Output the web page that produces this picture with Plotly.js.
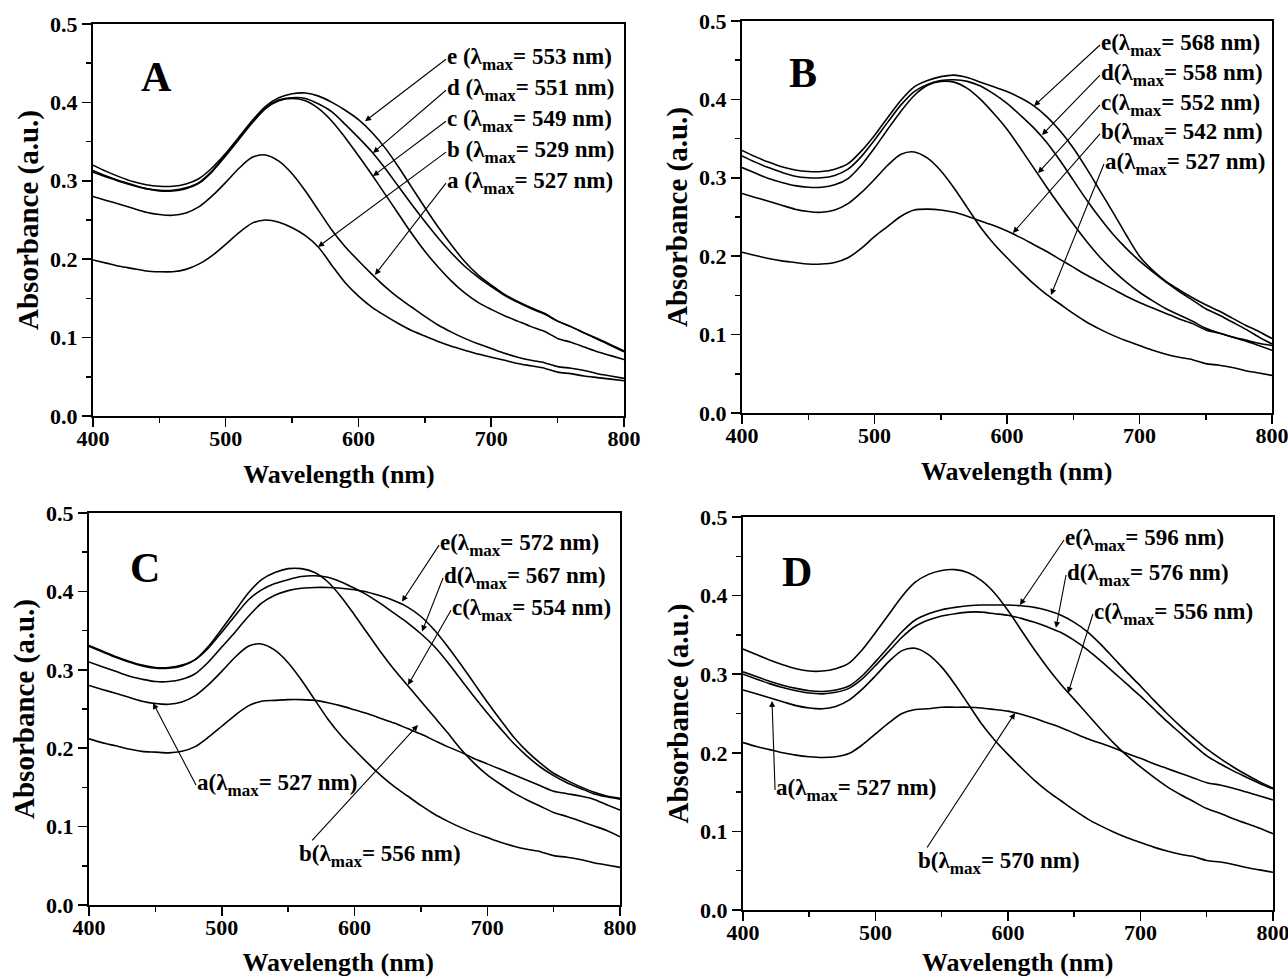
<!DOCTYPE html>
<html>
<head>
<meta charset="utf-8">
<script src="https://cdn.plot.ly/plotly-3.0.1.min.js"></script>
<style>html,body{margin:0;padding:0;background:#fff;}#chart{width:1288px;height:977px;}</style>
</head>
<body>
<div id="chart"></div>
<script>
// Wavelength grid (nm)
const wavelength = [400,410,420,430,440,450,460,470,480,490,500,510,520,530,540,550,560,570,580,590,600,610,620,630,640,650,660,670,680,690,700,710,720,730,740,750,760,770,780,790,800];

// Control curve "a" (same sample in all four panels, lambda max 527 nm)
const curveA = [.280,.275,.270,.265,.260,.257,.256,.259,.267,.281,.298,.316,.330,.333,.325,.309,.287,.262,.237,.216,.198,.181,.165,.151,.139,.127,.116,.107,.099,.092,.086,.080,.075,.071,.068,.063,.061,.058,.054,.051,.048];

// Panel A
const A_b = [.199,.195,.191,.188,.185,.184,.184,.187,.194,.205,.219,.234,.246,.250,.247,.240,.230,.215,.192,.170,.153,.139,.128,.118,.109,.102,.095,.089,.084,.079,.075,.071,.067,.064,.061,.056,.054,.051,.049,.047,.045];
const A_c = [.311,.305,.299,.294,.290,.287,.287,.290,.297,.312,.332,.353,.374,.392,.402,.405,.402,.392,.376,.355,.332,.308,.283,.258,.233,.210,.190,.172,.157,.145,.136,.128,.121,.114,.108,.099,.094,.088,.082,.077,.072];
const A_d = [.313,.306,.300,.295,.290,.288,.288,.291,.298,.313,.333,.354,.375,.393,.403,.406,.405,.398,.388,.372,.355,.337,.316,.293,.270,.248,.227,.208,.191,.177,.165,.154,.145,.137,.130,.121,.114,.106,.099,.091,.083];
const A_e = [.320,.312,.305,.299,.295,.293,.293,.296,.303,.317,.335,.356,.377,.395,.406,.411,.412,.408,.400,.390,.378,.362,.342,.318,.292,.266,.241,.218,.197,.180,.167,.155,.146,.138,.131,.121,.114,.106,.098,.090,.082];

// Panel B
const B_b = [.205,.201,.197,.194,.192,.190,.190,.192,.198,.210,.225,.238,.251,.259,.260,.259,.256,.251,.245,.239,.232,.224,.215,.206,.196,.186,.176,.167,.158,.149,.141,.134,.127,.120,.114,.106,.102,.097,.093,.089,.086];
const B_c = [.313,.306,.299,.294,.290,.288,.288,.291,.299,.316,.338,.362,.385,.405,.418,.423,.422,.414,.400,.382,.362,.338,.313,.288,.264,.241,.219,.199,.182,.167,.154,.143,.133,.125,.117,.108,.102,.097,.092,.086,.080];
const B_d = [.328,.320,.313,.307,.302,.300,.300,.303,.311,.327,.348,.371,.393,.410,.419,.424,.425,.423,.417,.407,.395,.380,.364,.345,.322,.297,.272,.249,.228,.210,.194,.180,.167,.155,.144,.133,.125,.116,.107,.097,.088];
const B_e = [.335,.327,.320,.314,.310,.308,.308,.311,.318,.334,.354,.377,.399,.416,.424,.429,.431,.428,.422,.416,.410,.402,.392,.378,.360,.338,.312,.284,.256,.227,.200,.182,.168,.157,.147,.138,.130,.121,.112,.104,.095];

// Panel C
const C_b = [.212,.207,.203,.199,.196,.195,.194,.196,.202,.214,.228,.242,.254,.260,.261,.262,.262,.261,.258,.254,.249,.244,.238,.232,.225,.218,.210,.202,.195,.187,.180,.173,.166,.159,.152,.145,.142,.139,.135,.128,.121];
const C_c = [.330,.323,.316,.310,.305,.302,.302,.305,.313,.330,.352,.375,.398,.415,.424,.429,.429,.424,.412,.393,.370,.346,.322,.300,.280,.260,.240,.220,.199,.181,.166,.154,.143,.134,.126,.118,.113,.107,.101,.095,.087];
const C_d = [.331,.324,.317,.311,.306,.303,.303,.306,.313,.328,.348,.369,.389,.402,.410,.415,.419,.420,.418,.412,.404,.395,.384,.372,.360,.346,.330,.310,.288,.266,.245,.225,.206,.190,.176,.165,.156,.149,.142,.138,.135];
const C_e = [.310,.304,.298,.292,.288,.285,.285,.288,.295,.310,.329,.348,.368,.385,.395,.401,.404,.405,.405,.404,.402,.399,.394,.388,.380,.368,.351,.330,.307,.283,.259,.236,.214,.196,.181,.168,.159,.151,.144,.139,.136];

// Panel D
const D_b = [.213,.208,.204,.200,.197,.195,.194,.195,.199,.210,.224,.238,.250,.255,.256,.258,.258,.258,.257,.255,.253,.249,.244,.238,.232,.225,.218,.212,.206,.199,.193,.186,.180,.174,.168,.162,.159,.155,.150,.145,.140];
const D_c = [.332,.325,.318,.312,.307,.304,.304,.307,.314,.331,.353,.376,.399,.417,.427,.432,.433,.429,.419,.403,.381,.356,.331,.308,.287,.268,.249,.230,.212,.196,.182,.169,.157,.147,.138,.129,.123,.116,.110,.104,.097];
const D_d = [.300,.294,.288,.283,.279,.276,.275,.277,.282,.294,.311,.329,.347,.361,.369,.374,.377,.379,.379,.377,.375,.371,.366,.360,.353,.343,.331,.317,.302,.287,.272,.256,.240,.225,.210,.196,.186,.177,.169,.161,.154];
const D_e = [.303,.297,.291,.286,.282,.279,.278,.280,.285,.298,.316,.335,.354,.369,.377,.382,.385,.387,.388,.388,.388,.387,.385,.381,.375,.366,.354,.338,.320,.302,.285,.267,.250,.234,.219,.205,.193,.182,.172,.163,.155];

// Labels
const panelLetters = ['A','B','C','D'];
const SUB = s => '<span style="font-size:17px;baseline-shift:-6px">' + s + '</span>';
const labelsA = ['a (λ'+SUB('max')+'= 527 nm)','b (λ'+SUB('max')+'= 529 nm)','c (λ'+SUB('max')+'= 549 nm)','d (λ'+SUB('max')+'= 551 nm)','e (λ'+SUB('max')+'= 553 nm)'];
const labelsB = ['a(λ'+SUB('max')+'= 527 nm)','b(λ'+SUB('max')+'= 542 nm)','c(λ'+SUB('max')+'= 552 nm)','d(λ'+SUB('max')+'= 558 nm)','e(λ'+SUB('max')+'= 568 nm)'];
const labelsC = ['a(λ'+SUB('max')+'= 527 nm)','b(λ'+SUB('max')+'= 556 nm)','c(λ'+SUB('max')+'= 554 nm)','d(λ'+SUB('max')+'= 567 nm)','e(λ'+SUB('max')+'= 572 nm)'];
const labelsD = ['a(λ'+SUB('max')+'= 527 nm)','b(λ'+SUB('max')+'= 570 nm)','c(λ'+SUB('max')+'= 556 nm)','d(λ'+SUB('max')+'= 576 nm)','e(λ'+SUB('max')+'= 596 nm)'];
const xTitle = 'Wavelength (nm)';
const yTitle = 'Absorbance (a.u.)';

const FONT = 'Liberation Serif, Times New Roman, serif';
const NB = '\u00A0';

const panels = [
  {series:[curveA,A_b,A_c,A_d,A_e], labels:labelsA, xa:'x', ya:'y',
   xdom:[0.07220,0.48447], ydom:[0.57421,0.97544],
   xpadL:0, xpadR:6,
   letter:[448,0.432],
   text:[[665.9,0.297],[665.9,0.3365],[665.9,0.376],[665.9,0.4155],[665.9,0.455]],
   tips:[[612.4,0.180],[569.5,0.2156],[610.9,0.306],[610.9,0.3355],[604.9,0.376]]},
  {series:[curveA,B_b,B_c,B_d,B_e], labels:labelsB, xa:'x2', ya:'y2',
   xdom:[0.57609,0.98758], ydom:[0.57728,0.97851],
   xpadL:3, xpadR:0,
   letter:[446,0.434],
   text:[[673.2,0.3176],[670.2,0.3559],[670.2,0.3929],[670.2,0.4311],[670.2,0.4694]],
   tips:[[633.2,0.1505],[604.5,0.2296],[623.4,0.306],[626.4,0.3546],[620.4,0.3916]]},
  {series:[curveA,C_b,C_c,C_d,C_e], labels:labelsC, xa:'x3', ya:'y3',
   xdom:[0.06910,0.48137], ydom:[0.07370,0.47492],
   xpadL:0, xpadR:5,
   letter:[442,0.43],
   text:[[480.6,0.153],[557.4,0.0625],[672.7,0.376],[666.7,0.417],[663.7,0.459]],
   tips:[[448.2,0.2577],[647.8,0.2296],[640.3,0.2806],[650.9,0.349],[635.8,0.387]]},
  {series:[curveA,D_b,D_c,D_d,D_e], labels:labelsD, xa:'x4', ya:'y4',
   xdom:[0.57686,0.98835], ydom:[0.06858,0.47083],
   xpadL:3, xpadR:0,
   letter:[441,0.43],
   text:[[424.2,0.1527],[531.3,0.0598],[664.1,0.3766],[643.8,0.4262],[642.3,0.4707]],
   tips:[[421.9,0.266],[605.3,0.2506],[645.3,0.276],[636.2,0.359],[609,0.388]]}
];

const traces = [];
const annotations = [];
const layout = {
  width:1288, height:977,
  margin:{l:0,r:0,t:0,b:0},
  paper_bgcolor:'#fff', plot_bgcolor:'#fff',
  showlegend:false,
  font:{family:FONT, color:'#000'},
  annotations:annotations
};

function axisCommon(){
  return {
    showline:true, linewidth:2, linecolor:'#000', mirror:true,
    showgrid:false, zeroline:false,
    ticks:'outside', ticklen:9, tickwidth:1.5, tickcolor:'#000',
    tickfont:{family:FONT, size:22, color:'#000', weight:'bold'},
    ticklabeloverflow:'allow',
    fixedrange:true
  };
}

panels.forEach((p, i) => {
  const n = i === 0 ? '' : String(i+1);
  p.series.forEach((s, k) => {
    traces.push({
      x: wavelength, y: s, type:'scatter', mode:'lines',
      xaxis:p.xa, yaxis:p.ya,
      line:{color:'#000', width:1.6, shape:'spline', smoothing:0.8},
      name: 'abcde'[k],
      hoverinfo:'skip'
    });
  });
  const xa = Object.assign(axisCommon(), {
    domain:p.xdom, anchor:p.ya, range:[400,800], tick0:400, dtick:100,
    ticklabelstandoff:-7,
    minor:{dtick:50, ticks:'outside', ticklen:5, tickwidth:1.5, tickcolor:'#000'},
    title:{text:'<b>'+NB.repeat(p.xpadL)+xTitle+NB.repeat(p.xpadR)+'</b>', font:{family:FONT, size:26, color:'#000'}, standoff:14}
  });
  const ya = Object.assign(axisCommon(), {
    domain:p.ydom, anchor:p.xa, range:[0,0.5], tick0:0, dtick:0.1, tickformat:'.1f',
    minor:{dtick:0.05, ticks:'outside', ticklen:5, tickwidth:1.5, tickcolor:'#000'},
    title:{text:'<b>'+yTitle+'</b>', font:{family:FONT, size:29, color:'#000'}, standoff:3}
  });
  layout['xaxis'+n] = xa;
  layout['yaxis'+n] = ya;

  annotations.push({
    xref:p.xa, yref:p.ya, x:p.letter[0], y:p.letter[1], text:'<b>'+panelLetters[i]+'</b>',
    showarrow:false, font:{family:FONT, size:42, color:'#000'}
  });
  p.labels.forEach((lab, k) => {
    annotations.push({
      xref:p.xa, yref:p.ya, x:p.tips[k][0], y:p.tips[k][1],
      axref:p.xa, ayref:p.ya, ax:p.text[k][0], ay:p.text[k][1],
      text:'<b>'+lab+'</b>', xanchor:'left', yanchor:'middle',
      showarrow:true, arrowhead:2, arrowsize:1.1, arrowwidth:1.1,
      arrowcolor:'#000', standoff:0, startstandoff:0, borderpad:0,
      font:{family:FONT, size:23, color:'#000'}
    });
  });
});

Plotly.newPlot('chart', traces, layout, {staticPlot:true, displayModeBar:false});
</script>
</body>
</html>
